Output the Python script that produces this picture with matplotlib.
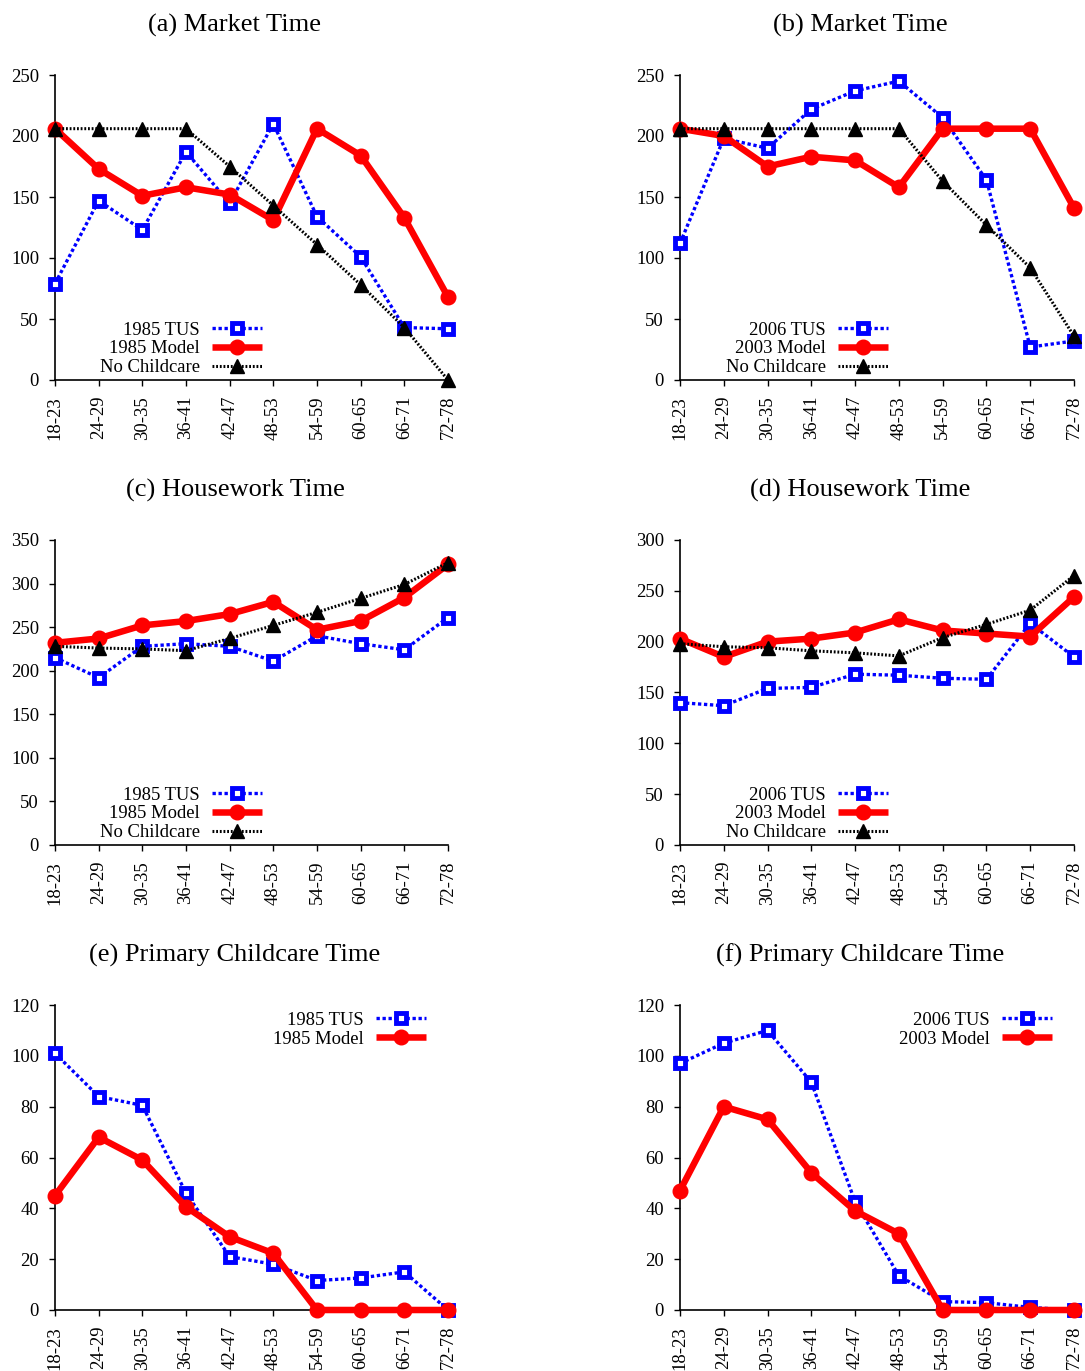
import matplotlib
matplotlib.use("Agg")
import matplotlib.pyplot as plt

plt.rcParams['font.family'] = ['Liberation Serif', 'DejaVu Serif']

# Age groups on the horizontal axis
ages = ['18-23', '24-29', '30-35', '36-41', '42-47',
        '48-53', '54-59', '60-65', '66-71', '72-78']

# (a) Market time, 1985
a_tus = [79, 147, 123, 187, 145, 210, 134, 101, 43, 42]
a_model = [206, 173, 151, 158, 152, 131, 206, 184, 133, 68]
a_nocc = [206, 206, 206, 206, 175, 143, 111, 78, 43, 0]

# (b) Market time, 2003/2006
b_tus = [112, 198, 190, 222, 237, 245, 215, 164, 27, 32]
b_model = [206, 200, 175, 183, 180, 158, 206, 206, 206, 141]
b_nocc = [206, 206, 206, 206, 206, 206, 163, 127, 92, 36]

# (c) Housework time, 1985
c_tus = [215, 192, 228, 231, 228, 211, 240, 231, 224, 261]
c_model = [232, 237, 252, 257, 265, 279, 247, 257, 284, 322]
c_nocc = [228, 226, 225, 223, 237, 252, 267, 283, 299, 324]

# (d) Housework time, 2003/2006
d_tus = [140, 137, 154, 155, 168, 167, 164, 163, 218, 185]
d_model = [203, 185, 200, 203, 209, 222, 211, 208, 205, 244]
d_nocc = [198, 195, 194, 191, 189, 186, 204, 217, 231, 265]

# (e) Primary childcare time, 1985
e_tus = [101, 84, 80.5, 46, 21, 18, 11.6, 12.6, 15, 0]
e_model = [45, 68, 59, 40.6, 28.8, 22.3, 0, 0, 0, 0]

# (f) Primary childcare time, 2003/2006
f_tus = [97, 105, 110, 89.6, 42.6, 13.5, 3.3, 2.9, 1, 0]
f_model = [47, 80, 75, 54, 39, 30, 0, 0, 0, 0]

titles = ['(a) Market Time', '(b) Market Time',
          '(c) Housework Time', '(d) Housework Time',
          '(e) Primary Childcare Time', '(f) Primary Childcare Time']
labels_85 = ['1985 TUS', '1985 Model', 'No Childcare']
labels_06 = ['2006 TUS', '2003 Model', 'No Childcare']

W, H = 1085, 1371
fig = plt.figure(figsize=(W / 100, H / 100), dpi=100)

col_left = [55, 680]
col_width = [393, 394]
row_zero = [380, 845, 1310]
row_height = 305
title_x = [235, 860]
title_base = [32, 497, 962]

TICK_FS = 13.4
TITLE_FS = 19


def make_axes(r, c):
    x0 = col_left[c] / W
    y0 = 1 - row_zero[r] / H
    ax = fig.add_axes([x0, y0, col_width[c] / W, row_height / H])
    ax.spines['top'].set_visible(False)
    ax.spines['right'].set_visible(False)
    ax.spines['left'].set_linewidth(1.2)
    ax.spines['bottom'].set_linewidth(1.2)
    ax.tick_params(direction='out', length=4.5, width=1.0,
                   labelsize=TICK_FS, pad=7)
    ax.tick_params(axis='x', labelrotation=90, pad=7)
    ax.set_xlim(0, len(ages) - 1)
    ax.set_xticks(range(len(ages)))
    ax.set_xticklabels(ages)
    fig.text(title_x[c] / W, 1 - title_base[r] / H, titles[2 * r + c],
             ha='center', va='baseline', fontsize=TITLE_FS)
    return ax


def draw(ax, tus, model, nocc, labels):
    x = range(len(ages))
    ax.plot(x, tus, color='#0000ff', lw=2.4, dashes=(1.0, 0.8),
            marker='s', ms=6.8, mfc='white', mec='#0000ff', mew=3.5,
            clip_on=False, zorder=3, label=labels[0])
    ax.plot(x, model, color='#ff0000', lw=4.7, solid_capstyle='butt',
            marker='o', ms=10.5, mfc='#ff0000', mec='#ff0000',
            clip_on=False, zorder=4, label=labels[1])
    if nocc is not None:
        ax.plot(x, nocc, color='black', lw=2.2, dashes=(0.6, 0.6),
                marker='^', ms=9.8, mfc='black', mec='black',
                clip_on=False, zorder=5, label=labels[2])


def add_legend(ax, anchor, loc='lower right'):
    ax.legend(loc=loc, bbox_to_anchor=anchor, frameon=False,
              markerfirst=False, numpoints=1, fontsize=TICK_FS,
              handlelength=2.7, handletextpad=0.65, labelspacing=0.1,
              borderpad=0, borderaxespad=0)


# Row 1: market time
ax = make_axes(0, 0)
draw(ax, a_tus, a_model, a_nocc, labels_85)
ax.set_ylim(0, 250)
ax.set_yticks(range(0, 251, 50))
add_legend(ax, (0.527, 0.012))

ax = make_axes(0, 1)
draw(ax, b_tus, b_model, b_nocc, labels_06)
ax.set_ylim(0, 250)
ax.set_yticks(range(0, 251, 50))
add_legend(ax, (0.528, 0.012))

# Row 2: housework time
ax = make_axes(1, 0)
draw(ax, c_tus, c_model, c_nocc, labels_85)
ax.set_ylim(0, 350)
ax.set_yticks(range(0, 351, 50))
add_legend(ax, (0.527, 0.012))

ax = make_axes(1, 1)
draw(ax, d_tus, d_model, d_nocc, labels_06)
ax.set_ylim(0, 300)
ax.set_yticks(range(0, 301, 50))
add_legend(ax, (0.528, 0.012))

# Row 3: primary childcare time
ax = make_axes(2, 0)
draw(ax, e_tus, e_model, None, labels_85)
ax.set_ylim(0, 120)
ax.set_yticks(range(0, 121, 20))
add_legend(ax, (0.944, 0.978), loc='upper right')

ax = make_axes(2, 1)
draw(ax, f_tus, f_model, None, labels_06)
ax.set_ylim(0, 120)
ax.set_yticks(range(0, 121, 20))
add_legend(ax, (0.944, 0.978), loc='upper right')

fig.savefig('out.png', dpi=100)
